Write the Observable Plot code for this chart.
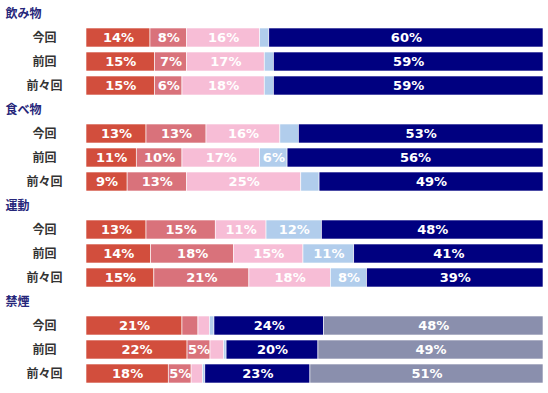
<!DOCTYPE html>
<html>
<head>
<meta charset="utf-8">
<script src="https://cdn.jsdelivr.net/npm/d3@7"></script>
<script src="https://cdn.jsdelivr.net/npm/@observablehq/plot@0.6"></script>
<style>
  html, body { margin: 0; padding: 0; background: #fff; }
  #chart svg { display: block; }
</style>
</head>
<body>
<div id="chart"></div>
<script>
// ---- data ----
const groups = ["飲み物", "食べ物", "運動", "禁煙"];
const rounds = ["今回", "前回", "前々回"];
const categories = ["c1", "c2", "c3", "c4", "c5", "c6"];
const colors = ["#d24e3d", "#d9727b", "#f7bdd6", "#b1cdec", "#000080", "#8a8fad"];
// values per category, in order group × round (今回, 前回, 前々回)
const c1 = [14, 15, 15, 13, 11, 9, 13, 14, 15, 21, 22, 18];
const c2 = [8, 7, 6, 13, 10, 13, 15, 18, 21, 3.5, 5, 5];
const c3 = [16, 17, 18, 16, 17, 25, 11, 15, 18, 2.5, 3, 2.5];
const c4 = [2, 2, 2, 4, 6, 4, 12, 11, 8, 1, 0.5, 0.5];
const c5 = [60, 59, 59, 53, 56, 49, 48, 41, 39, 24, 20, 23];
const c6 = [0, 0, 0, 0, 0, 0, 0, 0, 0, 48, 49, 51];
const series = [c1, c2, c3, c4, c5, c6];
const labelMin = 5;

// ---- build table ----
const slots = [];
const titleSlots = new Set();
groups.forEach(g => {
  slots.push(g); titleSlots.add(g);
  rounds.forEach(r => slots.push(g + "|" + r));
});
const rows = [];
groups.forEach((g, gi) => rounds.forEach((r, ri) => {
  const idx = gi * rounds.length + ri;
  categories.forEach((c, ci) => {
    rows.push({slot: g + "|" + r, cat: c, value: series[ci][idx]});
  });
}));

const stackOpts = {x: "value", y: "slot", z: "cat", order: categories, offset: "normalize"};

const chart = Plot.plot({
  width: 548,
  height: 393,
  marginLeft: 86,
  marginRight: 5,
  marginTop: 0,
  marginBottom: 0,
  style: {background: "#fff"},
  x: {domain: [0, 1], axis: null},
  y: {domain: slots, range: [-5.5, 392.6], padding: 0.226, axis: null},
  color: {domain: categories, range: colors},
  marks: [
    Plot.barX(rows, Plot.stackX({...stackOpts, fill: "cat", stroke: "#fff", strokeWidth: 0.6})),
    Plot.textX(rows, Plot.stackX({
      ...stackOpts,
      text: d => d.value >= labelMin ? d.value + "%" : "",
      fill: "#fff",
      fontFamily: "DejaVu Sans",
      fontWeight: "bold",
      fontSize: 13
    })),
    Plot.axisY({
      ticks: slots.filter(s => !titleSlots.has(s)),
      tickFormat: s => s.split("|")[1],
      tickSize: 0,
      tickPadding: 42,
      textAnchor: "middle",
      fontFamily: "Noto Sans CJK JP",
      fontWeight: "bold",
      fontSize: 12,
      fill: "#333",
      label: null
    }),
    Plot.axisY({
      ticks: groups,
      tickFormat: s => s,
      tickSize: 0,
      tickPadding: 81,
      textAnchor: "start",
      fontFamily: "Noto Sans CJK JP",
      fontWeight: "bold",
      fontSize: 12,
      fill: "#26267a",
      label: null
    })
  ]
});
document.getElementById("chart").appendChild(chart);
</script>
</body>
</html>
